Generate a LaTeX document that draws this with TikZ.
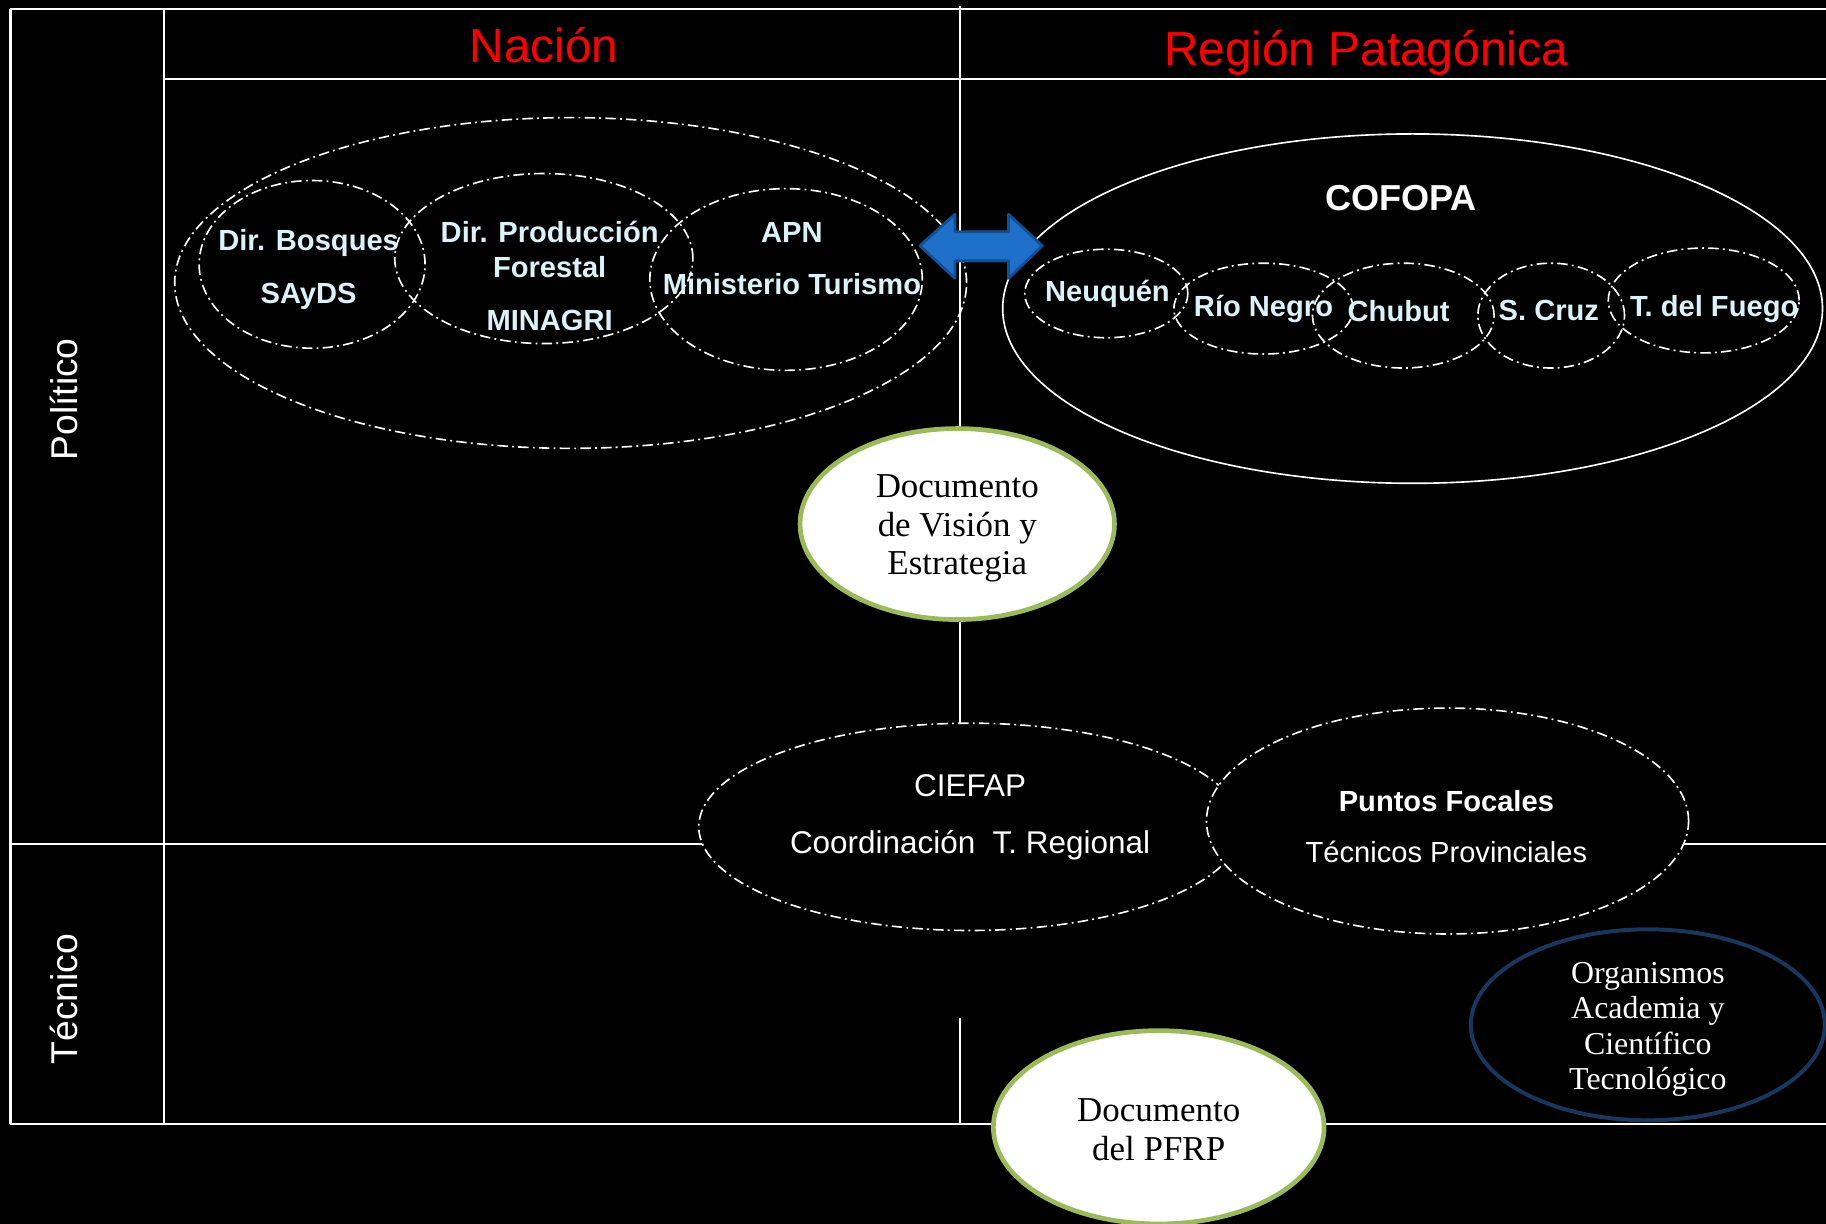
\documentclass[tikz,border=0pt]{standalone}
\usepackage{fontspec}
\setmainfont{Liberation Sans}
\newfontfamily\docfont{Liberation Serif}
\usetikzlibrary{shapes.geometric}
\definecolor{titlered}{RGB}{255,0,0}
\definecolor{paleblue}{RGB}{218,242,248}
\definecolor{docgreen}{RGB}{155,187,89}
\definecolor{navyline}{RGB}{23,55,94}
\definecolor{arrowfill}{RGB}{30,112,200}
\definecolor{arrowline}{RGB}{18,80,150}

\begin{document}
\begin{tikzpicture}[x=0.5pt, y=-0.5pt,
        grid/.style={white, line width=0.9pt},
        dashring/.style={ellipse, draw=white, line width=0.7pt, inner sep=0pt,
            dash pattern=on 4.5pt off 1.8pt on 0.8pt off 1.8pt},
        solidring/.style={ellipse, draw=white, line width=0.7pt, inner sep=0pt},
        docring/.style={ellipse, draw=docgreen, fill=white, line width=2pt, inner sep=0pt},
        orgring/.style={ellipse, draw=navyline, fill=black, line width=1.7pt, inner sep=0pt},
        headtext/.style={text=titlered, font=\fontsize{20.5}{24}\selectfont},
        sidetext/.style={text=white, font=\fontsize{16}{19}\selectfont, rotate=90},
        unittext/.style={text=paleblue, align=center, font=\bfseries\fontsize{12.5}{15}\selectfont},
        techtext/.style={text=white, align=center},
        doctext/.style={align=center, font=\docfont\fontsize{15}{16.5}\selectfont}]
        \useasboundingbox (0,0) rectangle (1568,1051);
        \fill[black] (0,0) rectangle (1568,1051);
        % table lines
        \draw[grid] (9,8) -- (1568,8);
        \draw[grid] (141,68) -- (1568,68);
        \draw[grid] (9,725) -- (1568,725);
        \draw[grid] (9,965) -- (1568,965);
        \draw[grid] (9,8) -- (9,965);
        \draw[grid] (141,8) -- (141,965);
        \draw[grid] (824,5) -- (824,622);
        \draw[grid] (824,874) -- (824,965);
        \node[headtext] (nacionT) at (467,39) {Nación};
        \node[headtext] (regionT) at (1173,45) {Región Patagónica};
        \node[sidetext] (politicoT) at (55,343) {Político};
        \node[sidetext] (tecnicoT) at (55,858) {Técnico};
        % nacion
        \node[dashring, minimum width=340pt, minimum height=142pt] (nacion) at (490,243) {};
        \node[dashring, minimum width=97pt, minimum height=72pt] (bosques) at (268,227) {};
        \node[dashring, minimum width=128pt, minimum height=73pt] (produccion) at (467,222) {};
        \node[dashring, minimum width=117pt, minimum height=78pt] (apn) at (675,240) {};
        \node[unittext] (bosquesT) at (265,231.5) {Dir. Bosques\\[7.5pt]SAyDS};
        \node[unittext] (produccionT) at (472,237) {Dir. Producción\\Forestal\\[7.5pt]MINAGRI};
        \node[unittext] (apnT) at (680,222) {APN\\[7.5pt]Ministerio Turismo};
        % region
        \node[solidring, minimum width=352pt, minimum height=150pt] (cofopa) at (1213,265) {};
        \node[text=white, font=\bfseries\fontsize{15.5}{18}\selectfont] (cofopaT) at (1203,170) {COFOPA};
        \node[dashring, minimum width=70pt, minimum height=38pt] (neuquen) at (950,252) {};
        \node[dashring, minimum width=77pt, minimum height=39pt] (rionegro) at (1085,265) {};
        \node[dashring, minimum width=78pt, minimum height=45pt] (chubut) at (1205,271) {};
        \node[dashring, minimum width=63pt, minimum height=45pt] (scruz) at (1332,271) {};
        \node[dashring, minimum width=82pt, minimum height=45pt] (fuego) at (1463,258) {};
        \node[unittext] (neuquenT) at (951,252) {Neuquén};
        \node[unittext] (rionegroT) at (1085,265) {Río Negro};
        \node[unittext] (chubutT) at (1201,267) {Chubut};
        \node[unittext] (scruzT) at (1330,267) {S. Cruz};
        \node[unittext] (fuegoT) at (1472,265) {T. del Fuego};
        % arrow between both levels
        \coordinate (arL) at (790,211);
        \coordinate (arR) at (895,211);
        \filldraw[fill=arrowfill, draw=arrowline, line width=1.2pt, line join=round]
            (arL) -- ++(30,-27) -- ++(0,15) -- ++(46,0) -- ++(0,-15) -- (arR)
            -- ++(-29,28) -- ++(0,-15) -- ++(-46,0) -- ++(0,15) -- cycle;
        % documents and technical level
        \node[docring, minimum width=135pt, minimum height=82pt] (vision) at (822,450) {};
        \node[doctext] (visionT) at (822,454) {Documento\\de Visión y\\Estrategia};
        \node[dashring, fill=black, minimum width=233pt, minimum height=89pt] (ciefap) at (833,710) {};
        \node[dashring, fill=black, minimum width=207pt, minimum height=97pt] (focales) at (1243,705) {};
        \node[techtext, font=\fontsize{13.5}{16}\selectfont] (ciefapT) at (833,702) {CIEFAP\\[8.5pt]Coordinación\ \ T. Regional};
        \node[techtext, font=\fontsize{12.5}{15}\selectfont] (focalesT) at (1242,710) {\textbf{Puntos Focales}\\[7pt]Técnicos Provinciales};
        \node[orgring, minimum width=152pt, minimum height=82pt] (organismos) at (1415,880) {};
        \node[doctext, text=white, font=\docfont\fontsize{13.7}{15.25}\selectfont] (organismosT) at (1415,884) {Organismos\\Academia y\\Científico\\Tecnológico};
        \node[docring, minimum width=142pt, minimum height=83pt] (pfrp) at (995,968) {};
        \node[doctext] (pfrpT) at (995,970) {Documento\\del PFRP};
\end{tikzpicture}
\end{document}
